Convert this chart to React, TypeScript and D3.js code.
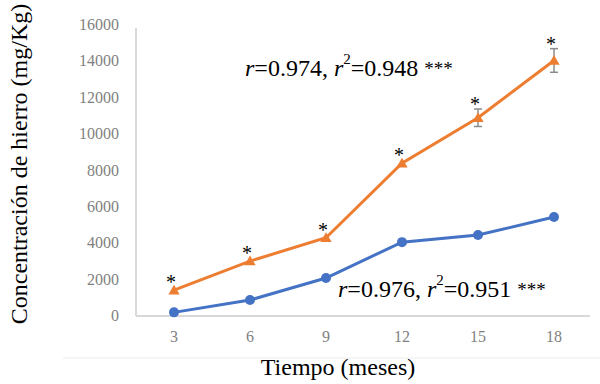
import React, { useEffect, useRef } from 'react'
import * as d3 from 'd3'

const months = ['3', '6', '9', '12', '15', '18']
const blueValues = [200, 880, 2090, 4060, 4450, 5440]
const blueErrors = [40, 60, 80, 100, 100, 120]
const orangeValues = [1420, 3020, 4300, 8400, 10900, 14050]
const orangeErrors = [150, 150, 150, 180, 480, 650]
const yTicks = [0, 2000, 4000, 6000, 8000, 10000, 12000, 14000, 16000]

const serif = 'Liberation Serif, DejaVu Serif, serif'

const App = () => {
    const ref = useRef<SVGSVGElement>(null)

    useEffect(() => {
        const svg = d3.select(ref.current)
        svg.selectAll('*').remove()

        const left = 136
        const right = 592
        const x = d3.scaleBand().domain(months).range([left, right])
        const y = d3.scaleLinear().domain([0, 16000]).range([316, 25])
        const cx = (m: string) => (x(m) as number) + x.bandwidth() / 2

        // faint frame line under x labels
        svg.append('line')
            .attr('x1', 63).attr('x2', 600).attr('y1', 358).attr('y2', 358)
            .attr('stroke', '#ececec').attr('stroke-width', 1)

        // axes lines
        svg.append('line')
            .attr('x1', left).attr('x2', left).attr('y1', 28).attr('y2', y(0))
            .attr('stroke', '#d9d9d9').attr('stroke-width', 2)
        svg.append('line')
            .attr('x1', left).attr('x2', 590).attr('y1', y(0)).attr('y2', y(0))
            .attr('stroke', '#d9d9d9').attr('stroke-width', 2)

        // tick labels
        svg.selectAll('.ytick')
            .data(yTicks)
            .enter()
            .append('text')
            .attr('x', 119)
            .attr('y', d => y(d) + 5)
            .attr('text-anchor', 'end')
            .attr('fill', '#7f7f7f')
            .attr('font-family', serif)
            .attr('font-size', 16)
            .text(d => d)

        svg.selectAll('.xtick')
            .data(months)
            .enter()
            .append('text')
            .attr('x', d => cx(d))
            .attr('y', 342)
            .attr('text-anchor', 'middle')
            .attr('fill', '#7f7f7f')
            .attr('font-family', serif)
            .attr('font-size', 16)
            .text(d => d)

        const series = [
            { values: blueValues, errors: blueErrors, color: '#4472c4', marker: 'circle' },
            { values: orangeValues, errors: orangeErrors, color: '#ed7d31', marker: 'triangle' }
        ]

        series.forEach(s => {
            const pts = months.map((m, i) => ({ m, v: s.values[i], e: s.errors[i] }))
            const line = d3.line<{ m: string, v: number }>()
                .x(d => cx(d.m))
                .y(d => y(d.v))

            svg.append('path')
                .datum(pts)
                .attr('fill', 'none')
                .attr('stroke', s.color)
                .attr('stroke-width', 3)
                .attr('d', line)

            // error bars
            const eb = svg.append('g').attr('stroke', '#8c8c8c').attr('stroke-width', 1.5)
            pts.forEach(p => {
                eb.append('line').attr('x1', cx(p.m)).attr('x2', cx(p.m))
                    .attr('y1', y(p.v - p.e)).attr('y2', y(p.v + p.e))
                if (p.e > 200) {
                    ;[p.v - p.e, p.v + p.e].forEach(t => {
                        eb.append('line').attr('x1', cx(p.m) - 4).attr('x2', cx(p.m) + 4)
                            .attr('y1', y(t)).attr('y2', y(t))
                    })
                }
            })

            if (s.marker === 'circle') {
                svg.selectAll('.dot-' + s.marker)
                    .data(pts)
                    .enter()
                    .append('circle')
                    .attr('cx', d => cx(d.m))
                    .attr('cy', d => y(d.v))
                    .attr('r', 5)
                    .attr('fill', s.color)
            } else {
                svg.selectAll('.tri')
                    .data(pts)
                    .enter()
                    .append('path')
                    .attr('d', d3.symbol().type(d3.symbolTriangle).size(55))
                    .attr('transform', d => `translate(${cx(d.m)},${y(d.v) + 1})`)
                    .attr('fill', s.color)

                // significance asterisks
                svg.selectAll('.star')
                    .data(pts)
                    .enter()
                    .append('text')
                    .attr('x', d => cx(d.m) - 3)
                    .attr('y', d => y(d.v + d.e) + 2)
                    .attr('text-anchor', 'middle')
                    .attr('font-family', serif)
                    .attr('font-size', 20)
                    .text('*')
            }
        })

        // correlation annotations
        const annot = (tx: number, ty: number, r: string, r2: string) => {
            const t = svg.append('text')
                .attr('x', tx).attr('y', ty)
                .attr('font-family', serif)
                .attr('font-size', 24)
                .attr('fill', '#000')
            t.append('tspan').attr('font-style', 'italic').text('r')
            t.append('tspan').text(`=${r}, `)
            t.append('tspan').attr('font-style', 'italic').text('r')
            t.append('tspan').attr('dy', -12).attr('font-size', 15).text('2')
            t.append('tspan').attr('dy', 12).text(`=${r2} `)
            t.append('tspan').attr('font-size', 19).attr('dy', -1).text('***')
        }
        annot(245, 76, '0.974', '0.948')
        annot(338, 297, '0.976', '0.951')

        // axis titles
        svg.append('text')
            .attr('x', 338)
            .attr('y', 375)
            .attr('text-anchor', 'middle')
            .attr('font-family', serif)
            .attr('font-size', 24)
            .text('Tiempo (meses)')

        svg.append('text')
            .attr('transform', 'translate(27,164) rotate(-90)')
            .attr('text-anchor', 'middle')
            .attr('font-family', serif)
            .attr('font-size', 24)
            .text('Concentración de hierro (mg/Kg)')
    }, [])

    return (
        <div style={{ position: 'absolute', left: 0, top: 0, width: 600, height: 384, background: '#fff' }}>
            <svg ref={ref} width={600} height={384} />
        </div>
    )
}

export default App
